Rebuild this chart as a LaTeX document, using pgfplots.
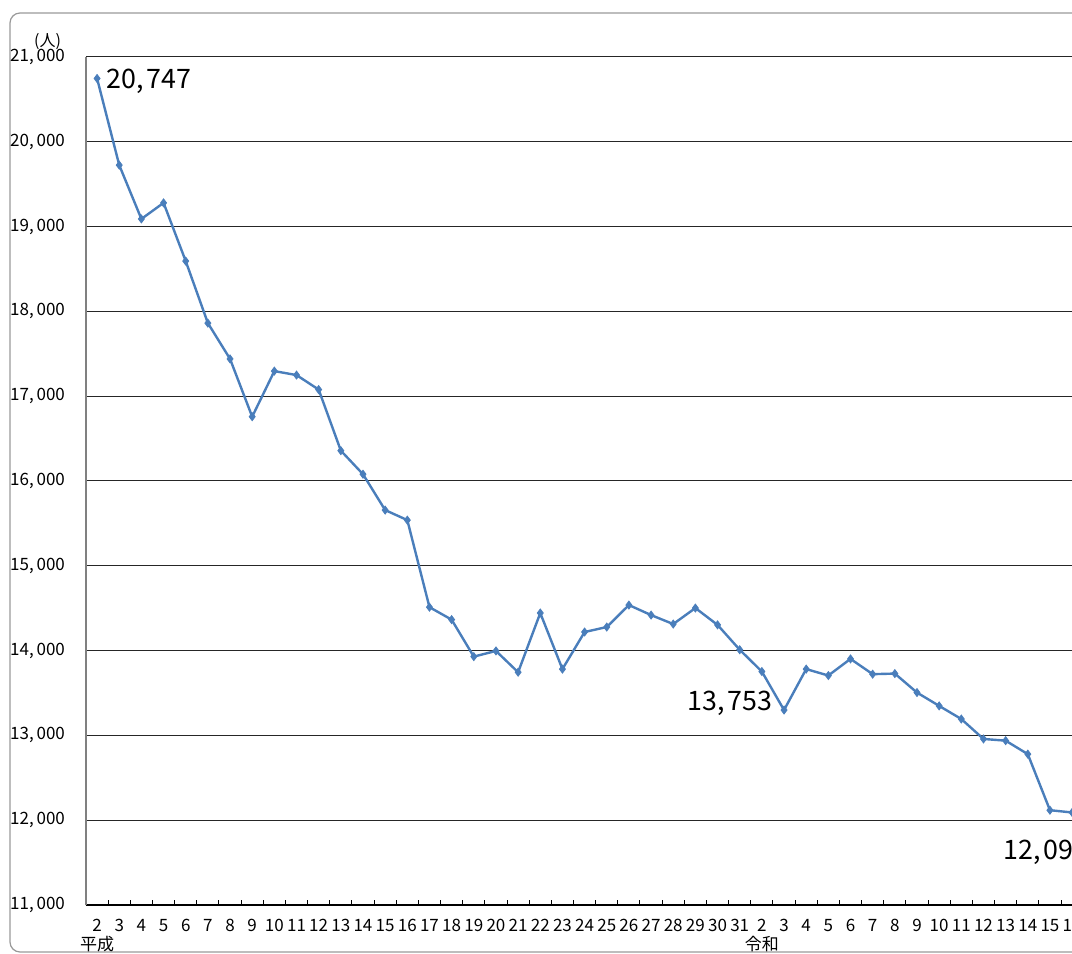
\documentclass[border=0pt]{standalone}
\usepackage{fontspec}
\setmainfont{Noto Sans CJK JP}
\usepackage{pgfplots}
\pgfplotsset{compat=1.18}
\definecolor{ln}{HTML}{4A7EBB}
\begin{document}
\begin{tikzpicture}
\useasboundingbox (0,0) rectangle (536pt,477pt);
\clip (0,0) rectangle (536pt,477pt);
\draw[gray!80, line width=0.6pt, rounded corners=5pt] (5pt,1pt) rectangle (600pt,470.5pt);
\node[font=\fontsize{8}{9}\selectfont, inner sep=0] at (23.75pt,456pt) {(人)};
\begin{axis}[
  at={(43pt,24.5pt)}, anchor=south west,
  scale only axis, width=498.6pt, height=424pt,
  xmin=-0.5, xmax=44.5, ymin=11000, ymax=21000,
  scaled y ticks=false, scaled x ticks=false,
  axis x line*=bottom, axis y line*=left,
  x axis line style={black, line width=0.7pt, -},
  y axis line style={gray, line width=0.6pt, -},
  ytick={11000,12000,...,21000},
  yticklabels={{11,\,000},{12,\,000},{13,\,000},{14,\,000},{15,\,000},{16,\,000},{17,\,000},{18,\,000},{19,\,000},{20,\,000},{21,\,000}},
  ymajorgrids, major grid style={black!85, line width=0.5pt},
  y tick style={draw=none},
  xtick={0,...,44},
  xticklabels={{2\\平成},3,4,5,6,7,8,9,10,11,12,13,14,15,16,17,18,19,20,21,22,23,24,25,26,27,28,29,30,31,{2\\令和},3,4,5,6,7,8,9,10,11,12,13,14,15,16},
  major x tick style={draw=none},
  minor xtick={-0.5,0.5,...,44.5},
  minor x tick style={black, line width=0.5pt},
  minor tick length=2.5pt,
  tick align=inside,
  xticklabel style={font=\fontsize{8.5}{9.5}\selectfont, align=center, yshift=-3.5pt},
  yticklabel style={font=\fontsize{8.5}{10}\selectfont, xshift=-7pt},
]
\addplot[color=ln, line width=1.2pt, mark=diamond*, mark size=2pt, mark options={fill=ln, draw=ln, line width=0.4pt}] coordinates {
(0,20747) (1,19725) (2,19090) (3,19280) (4,18593) (5,17862) (6,17440) (7,16758)
(8,17296) (9,17249) (10,17078) (11,16358) (12,16080) (13,15657) (14,15539)
(15,14512) (16,14365) (17,13929) (18,13996) (19,13745) (20,14443) (21,13782)
(22,14219) (23,14278) (24,14537) (25,14419) (26,14313) (27,14502) (28,14303)
(29,14010) (30,13753) (31,13299) (32,13782) (33,13706) (34,13902) (35,13722)
(36,13729) (37,13505) (38,13348) (39,13193) (40,12958) (41,12938) (42,12779)
(43,12118) (44,12091)
};
\node[anchor=base west, inner sep=0, xshift=4.5pt, yshift=-5pt, font=\fontsize{13.4}{15}\selectfont] at (axis cs:0,20747) {20,\hspace{1.5pt}747};
\node[anchor=base east, inner sep=0, xshift=5.5pt, yshift=-19.5pt, font=\fontsize{13.4}{15}\selectfont] at (axis cs:30,13753) {13,\hspace{1.5pt}753};
\node[anchor=base west, inner sep=0, xshift=-34.5pt, yshift=-23.5pt, font=\fontsize{13.4}{15}\selectfont] at (axis cs:44,12091) {12,\hspace{1.5pt}091};
\end{axis}
\end{tikzpicture}
\end{document}
